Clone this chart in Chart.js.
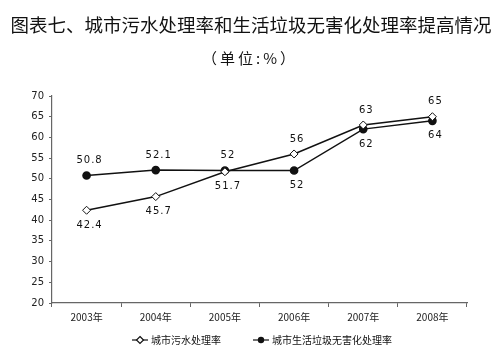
<!DOCTYPE html>
<html><head><meta charset="utf-8">
<script src="https://cdn.jsdelivr.net/npm/chart.js@4.4.1/dist/chart.umd.min.js"></script>
<style>html,body{margin:0;padding:0;background:#fff}#wrap{width:500px;height:361px}</style>
</head><body><div id="wrap"><canvas id="c" width="500" height="361"></canvas></div>
<script>
const categories = ['2003年','2004年','2005年','2006年','2007年','2008年'];
const sewage = [42.4, 45.7, 51.7, 56, 63, 65];
const garbage = [50.8, 52.1, 52, 52, 62, 64];
const sewageLabelPos = ['below','below','below','above','above','above'];
const garbageLabelPos = ['above','above','above','below','below','below'];
const seriesNames = ['城市污水处理率','城市生活垃圾无害化处理率'];
const yTicks = [20,25,30,35,40,45,50,55,60,65,70];
const titleText = '图表七、城市污水处理率和生活垃圾无害化处理率提高情况';
const subtitleText = '（单位:%）';

const CJK = '"Noto Sans CJK SC", "DejaVu Sans", sans-serif';

const labelPlugin = {
  id: 'labels',
  afterDatasetsDraw(chart) {
    const ctx = chart.ctx;
    ctx.save();
    ctx.font = '10px "DejaVu Sans", sans-serif';
    ctx.letterSpacing = '1px';
    ctx.fillStyle = '#111';
    ctx.textAlign = 'center';
    ctx.textBaseline = 'middle';
    const posArr = [sewageLabelPos, garbageLabelPos];
    chart.data.datasets.forEach((ds, di) => {
      const meta = chart.getDatasetMeta(di);
      meta.data.forEach((pt, i) => {
        const v = ds.data[i];
        const dy = posArr[di][i] === 'above' ? -15 : 15;
        ctx.fillText(String(v), pt.x + 3, pt.y + dy);
      });
    });
    ctx.restore();
  }
};

const titlePlugin = {
  id: 'titles',
  afterDraw(chart) {
    const ctx = chart.ctx;
    ctx.save();
    ctx.fillStyle = '#111';
    ctx.textAlign = 'center';
    ctx.textBaseline = 'middle';
    ctx.font = 'normal 18.5px ' + CJK;
    ctx.fillText(titleText, 251, 25);
    ctx.font = '15px ' + CJK;
    ctx.letterSpacing = '3px';
    ctx.fillText(subtitleText, 250, 58);
    ctx.letterSpacing = '0px';
    // legend
    ctx.font = '10px ' + CJK;
    ctx.textAlign = 'left';
    const items = [
      {x: 132, style: 'diamond', text: seriesNames[0]},
      {x: 253, style: 'circle', text: seriesNames[1]}
    ];
    const ly = 340;
    items.forEach(it => {
      ctx.strokeStyle = '#111';
      ctx.lineWidth = 1.2;
      ctx.beginPath();
      ctx.moveTo(it.x, ly); ctx.lineTo(it.x + 16, ly); ctx.stroke();
      if (it.style === 'diamond') {
        ctx.fillStyle = '#fff';
        ctx.beginPath();
        ctx.moveTo(it.x + 8, ly - 3.5); ctx.lineTo(it.x + 11.5, ly);
        ctx.lineTo(it.x + 8, ly + 3.5); ctx.lineTo(it.x + 4.5, ly); ctx.closePath();
        ctx.fill(); ctx.stroke();
      } else {
        ctx.fillStyle = '#111';
        ctx.beginPath(); ctx.arc(it.x + 8, ly, 3.2, 0, Math.PI * 2); ctx.fill();
      }
      ctx.fillStyle = '#111';
      ctx.fillText(it.text, it.x + 19, ly);
    });
    ctx.restore();
  }
};

new Chart(document.getElementById('c'), {
  type: 'line',
  data: {
    labels: categories,
    datasets: [
      {label: seriesNames[0], data: sewage, borderColor: '#111', borderWidth: 1.5,
       pointStyle: 'rectRot', pointRadius: 4, pointBackgroundColor: '#fff', pointBorderColor: '#111', pointBorderWidth: 1, tension: 0},
      {label: seriesNames[1], data: garbage, borderColor: '#111', borderWidth: 1.5,
       pointStyle: 'circle', pointRadius: 3.6, pointBackgroundColor: '#111', pointBorderColor: '#111', tension: 0}
    ]
  },
  options: {
    responsive: false,
    animation: false,
    layout: {padding: {top: 96, left: 0, right: 33, bottom: 36}},
    plugins: {legend: {display: false}, title: {display: false}, tooltip: {enabled: false}},
    scales: {
      x: {
        offset: true,
        grid: {display: true, drawOnChartArea: false, offset: true, color: '#666', tickLength: 4, tickColor: '#666'},
        border: {color: '#666', width: 1.2},
        ticks: {color: '#222', font: {size: 10, family: CJK}, padding: 4, maxRotation: 0},
        afterFit(s) { s.height = 22; }
      },
      y: {
        min: 20, max: 70,
        afterBuildTicks(s) { s.ticks = yTicks.map(v => ({value: v})); },
        grid: {display: true, drawOnChartArea: false, color: '#666', tickLength: 3},
        border: {color: '#666', width: 1.2},
        ticks: {color: '#222', font: {size: 10, family: '"DejaVu Sans", sans-serif'}, padding: 5},
        afterFit(s) { s.width = 52; }
      }
    }
  },
  plugins: [labelPlugin, titlePlugin]
});
</script>
</body></html>
